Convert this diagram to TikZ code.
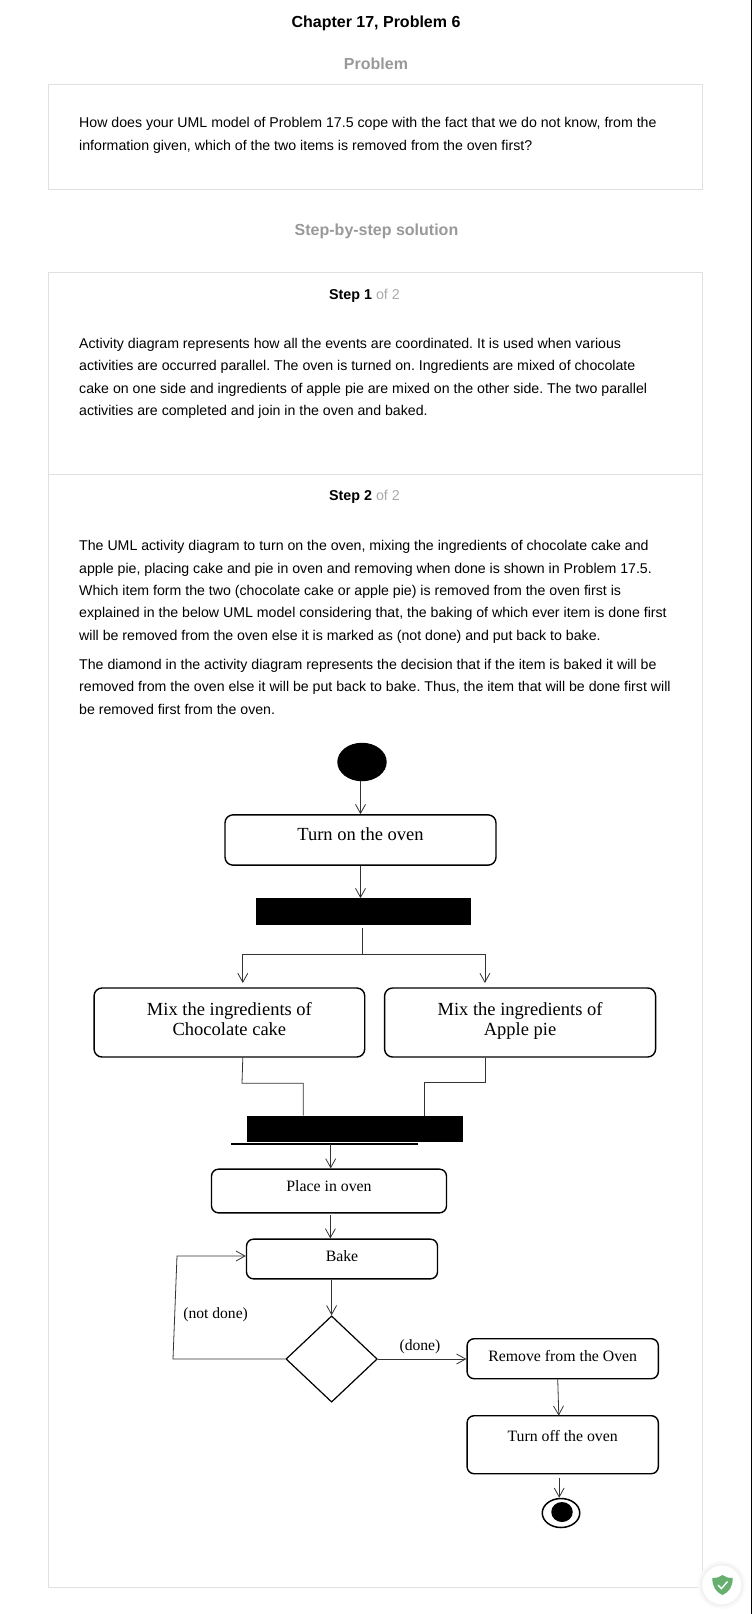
\documentclass[tikz,border=0pt]{standalone}
\usepackage{fontspec}
\setmainfont{Liberation Sans}
\newfontfamily\umlfont{Liberation Serif}
\usetikzlibrary{arrows.meta,shapes.geometric}
\definecolor{panelline}{HTML}{E0E0E0}
\definecolor{headgray}{HTML}{999999}
\definecolor{ofgray}{HTML}{AAAAAA}
\definecolor{flowline}{HTML}{333333}
\definecolor{shieldgreen}{HTML}{66AF6E}
\tikzset{
    panelbox/.style={draw=panelline,line width=1pt,inner sep=0pt},
    headtext/.style={font=\fontsize{16}{19}\selectfont\bfseries,inner sep=0pt},
    bodytext/.style={font=\fontsize{14.15}{22.4}\selectfont,align=left,anchor=north west,inner sep=0pt},
    steptext/.style={font=\fontsize{14.3}{17}\selectfont,inner sep=0pt},
    bigbox/.style={draw,line width=1.4pt,rounded corners=8pt,inner sep=0pt,font=\umlfont\fontsize{18.5}{20.8}\selectfont,align=center},
    smallbox/.style={draw,line width=1.4pt,rounded corners=7pt,inner sep=0pt,font=\umlfont\fontsize{15.8}{19}\selectfont},
    syncbar/.style={fill=black,inner sep=0pt},
    guardtext/.style={font=\umlfont\fontsize{15.6}{19}\selectfont,inner sep=0pt},
    flow/.style={draw=flowline,line width=0.8pt}
}
\begin{document}
\frenchspacing
\begin{tikzpicture}[x=1pt,y=-1pt,>={Straight Barb[length=9pt,width=10pt]}]
    \useasboundingbox (0,0) rectangle (752,1614);
    \draw[color=black,line width=1pt] (751.5,0) -- (751.5,1614);

    % page text
    \node[headtext] (title) at (376,23) {Chapter 17, Problem 6};
    \node[headtext,text=headgray] (problemhead) at (376,64) {Problem};
    \node[panelbox,minimum width=654.5,minimum height=105] (problembox) at (375.3,136.5) {};
    \node[bodytext] (problemtext) at (79,117.5) {How does your UML model of Problem 17.5 cope with the fact that we do not know, from the\\[0.6pt]information given, which of the two items is removed from the oven first?};
    \node[headtext,text=headgray] (solutionhead) at (376.5,231.5) {Step-by-step solution};
    \node[panelbox,minimum width=654.5,minimum height=1315] (stepbox) at (375.3,929.5) {};
    \coordinate (divider) at (0,474);
    \draw[panelline,line width=1pt] (stepbox.west |- divider) -- (stepbox.east |- divider);
    \node[steptext] (stepone) at (364.5,296) {\textbf{Step 1} \textcolor{ofgray}{of 2}};
    \node[bodytext] (steponetext) at (79,338) {Activity diagram represents how all the events are coordinated. It is used when various\\activities are occurred parallel. The oven is turned on. Ingredients are mixed of chocolate\\cake on one side and ingredients of apple pie are mixed on the other side. The two parallel\\activities are completed and join in the oven and baked.};
    \node[steptext] (steptwo) at (364.5,497) {\textbf{Step 2} \textcolor{ofgray}{of 2}};
    \node[bodytext] (steptwotext) at (79,540.3) {The UML activity diagram to turn on the oven, mixing the ingredients of chocolate cake and\\apple pie, placing cake and pie in oven and removing when done is shown in Problem 17.5.\\Which item form the two (chocolate cake or apple pie) is removed from the oven first is\\explained in the below UML model considering that, the baking of which ever item is done first\\will be removed from the oven else it is marked as (not done) and put back to bake.};
    \node[bodytext] (steptwomore) at (79,659) {The diamond in the activity diagram represents the decision that if the item is baked it will be\\removed from the oven else it will be put back to bake. Thus, the item that will be done first will\\be removed first from the oven.};

    % activity nodes
    \node[ellipse,fill=black,inner sep=0pt,minimum width=49.4,minimum height=38.5] (start) at (362,762) {};
    \node[bigbox,minimum width=271,minimum height=50.3,text height=12pt,text depth=11pt] (turnon) at (360.5,840) {Turn on the oven};
    \node[syncbar,minimum width=215.6,minimum height=26.4] (fork) at (363.4,911.5) {};
    \node[bigbox,minimum width=270.7,minimum height=69,text depth=7pt] (mixchoc) at (229.4,1022.5) {Mix the ingredients of\\Chocolate cake};
    \node[bigbox,minimum width=271,minimum height=69,text depth=7pt] (mixapple) at (520.1,1022.5) {Mix the ingredients of\\Apple pie};
    \node[syncbar,minimum width=215.6,minimum height=26.3] (join) at (355.1,1129) {};
    \node[smallbox,minimum width=235,minimum height=43.7,text height=10pt,text depth=10pt] (place) at (329,1191) {Place in oven};
    \node[smallbox,minimum width=191,minimum height=39.7,text height=10pt,text depth=6pt] (bake) at (342,1259) {Bake};
    \node[diamond,draw,line width=1.2pt,inner sep=0pt,minimum width=91.4,minimum height=86.3] (decide) at (331.6,1359) {};
    \node[smallbox,minimum width=191.2,minimum height=40,text height=10pt,text depth=4pt] (remove) at (562.7,1358.7) {Remove from the Oven};
    \node[smallbox,minimum width=191.2,minimum height=58,text height=10pt,text depth=17pt] (turnoff) at (562.7,1444.7) {Turn off the oven};
    \node[ellipse,draw,line width=1.5pt,inner sep=0pt,minimum width=37.5,minimum height=29] (finish) at (561,1513) {};
    \node[ellipse,fill=black,inner sep=0pt,minimum width=21.5,minimum height=20] (finishdot) at (562,1512) {};
    \node[guardtext] (notdone) at (215.6,1315) {(not done)};
    \node[guardtext] (done) at (420,1347) {(done)};

    % junction points
    \coordinate (forkout) at (362.2,928);
    \coordinate (forkmid) at (362.2,954);
    \coordinate (tipchoc) at (242.8,983);
    \coordinate (tipapple) at (484.9,983);
    \coordinate (chocbend) at (242,1083.3);
    \coordinate (chocdrop) at (303.3,1083.3);
    \coordinate (applebend) at (485.5,1082);
    \coordinate (appledrop) at (424.8,1082);
    \coordinate (joinleft) at (231.2,1144);
    \coordinate (joinright) at (417.7,1144);
    \coordinate (joinout) at (330.7,1144);
    \coordinate (placeout) at (330.4,1215);
    \coordinate (loopdown) at (173,1359);
    \coordinate (loopup) at (177,1256);
    \coordinate (removeout) at (557.7,1378.7);
    \coordinate (turnoffin) at (558.8,1415.7);
    \coordinate (finishin) at (559.2,1478);

    % connectors
    \draw[flow,->] (start.south -| turnon.north) -- (turnon.north);
    \draw[flow,->] (turnon.south) -- (turnon.south |- fork.north);
    \draw[flow] (forkout) -- (forkmid);
    \draw[flow,->] (forkmid) -| (tipchoc);
    \draw[flow,->] (forkmid) -| (tipapple);
    \draw[flow] (mixchoc.south -| tipchoc) -- (chocbend) -- (chocdrop) -- (chocdrop |- join.north);
    \draw[flow] (mixapple.south -| applebend) -- (applebend) -- (appledrop) -- (appledrop |- join.north);
    \draw[line width=1.3pt] (joinleft) -- (joinright);
    \draw[flow,->] (joinout) -- (joinout |- place.north);
    \draw[flow,->] (placeout) -- (placeout |- bake.north);
    \draw[flow,->] (bake.south -| decide.north) -- (decide.north);
    \draw[flow,->] (decide.east) -- (remove.west |- decide.east);
    \draw[flow,->] (decide.west) -- (loopdown) -- (loopup) -- (bake.west |- loopup);
    \draw[flow,->] (removeout) -- (turnoffin);
    \draw[flow,->] (finishin) -- (finishin |- finish.north);

    % badge
    \foreach \haloradius/\haloshade in {24/2,22/4,20.5/6}
        \fill[black!\haloshade] (721.7,1585) circle (\haloradius);
    \fill[white] (721.7,1585) circle (19.5);
    \fill[shieldgreen] (712.3,1578) .. controls (717,1578) and (720,1577) .. (722.5,1575) .. controls (725,1577) and (728,1578) .. (732.7,1578) .. controls (732.7,1587) and (729,1592) .. (722.5,1595) .. controls (716,1592) and (712.3,1587) .. (712.3,1578) -- cycle;
    \draw[white,line width=1.4pt] (718,1585) -- (721.5,1588.5) -- (727.5,1581.5);
\end{tikzpicture}
\end{document}
